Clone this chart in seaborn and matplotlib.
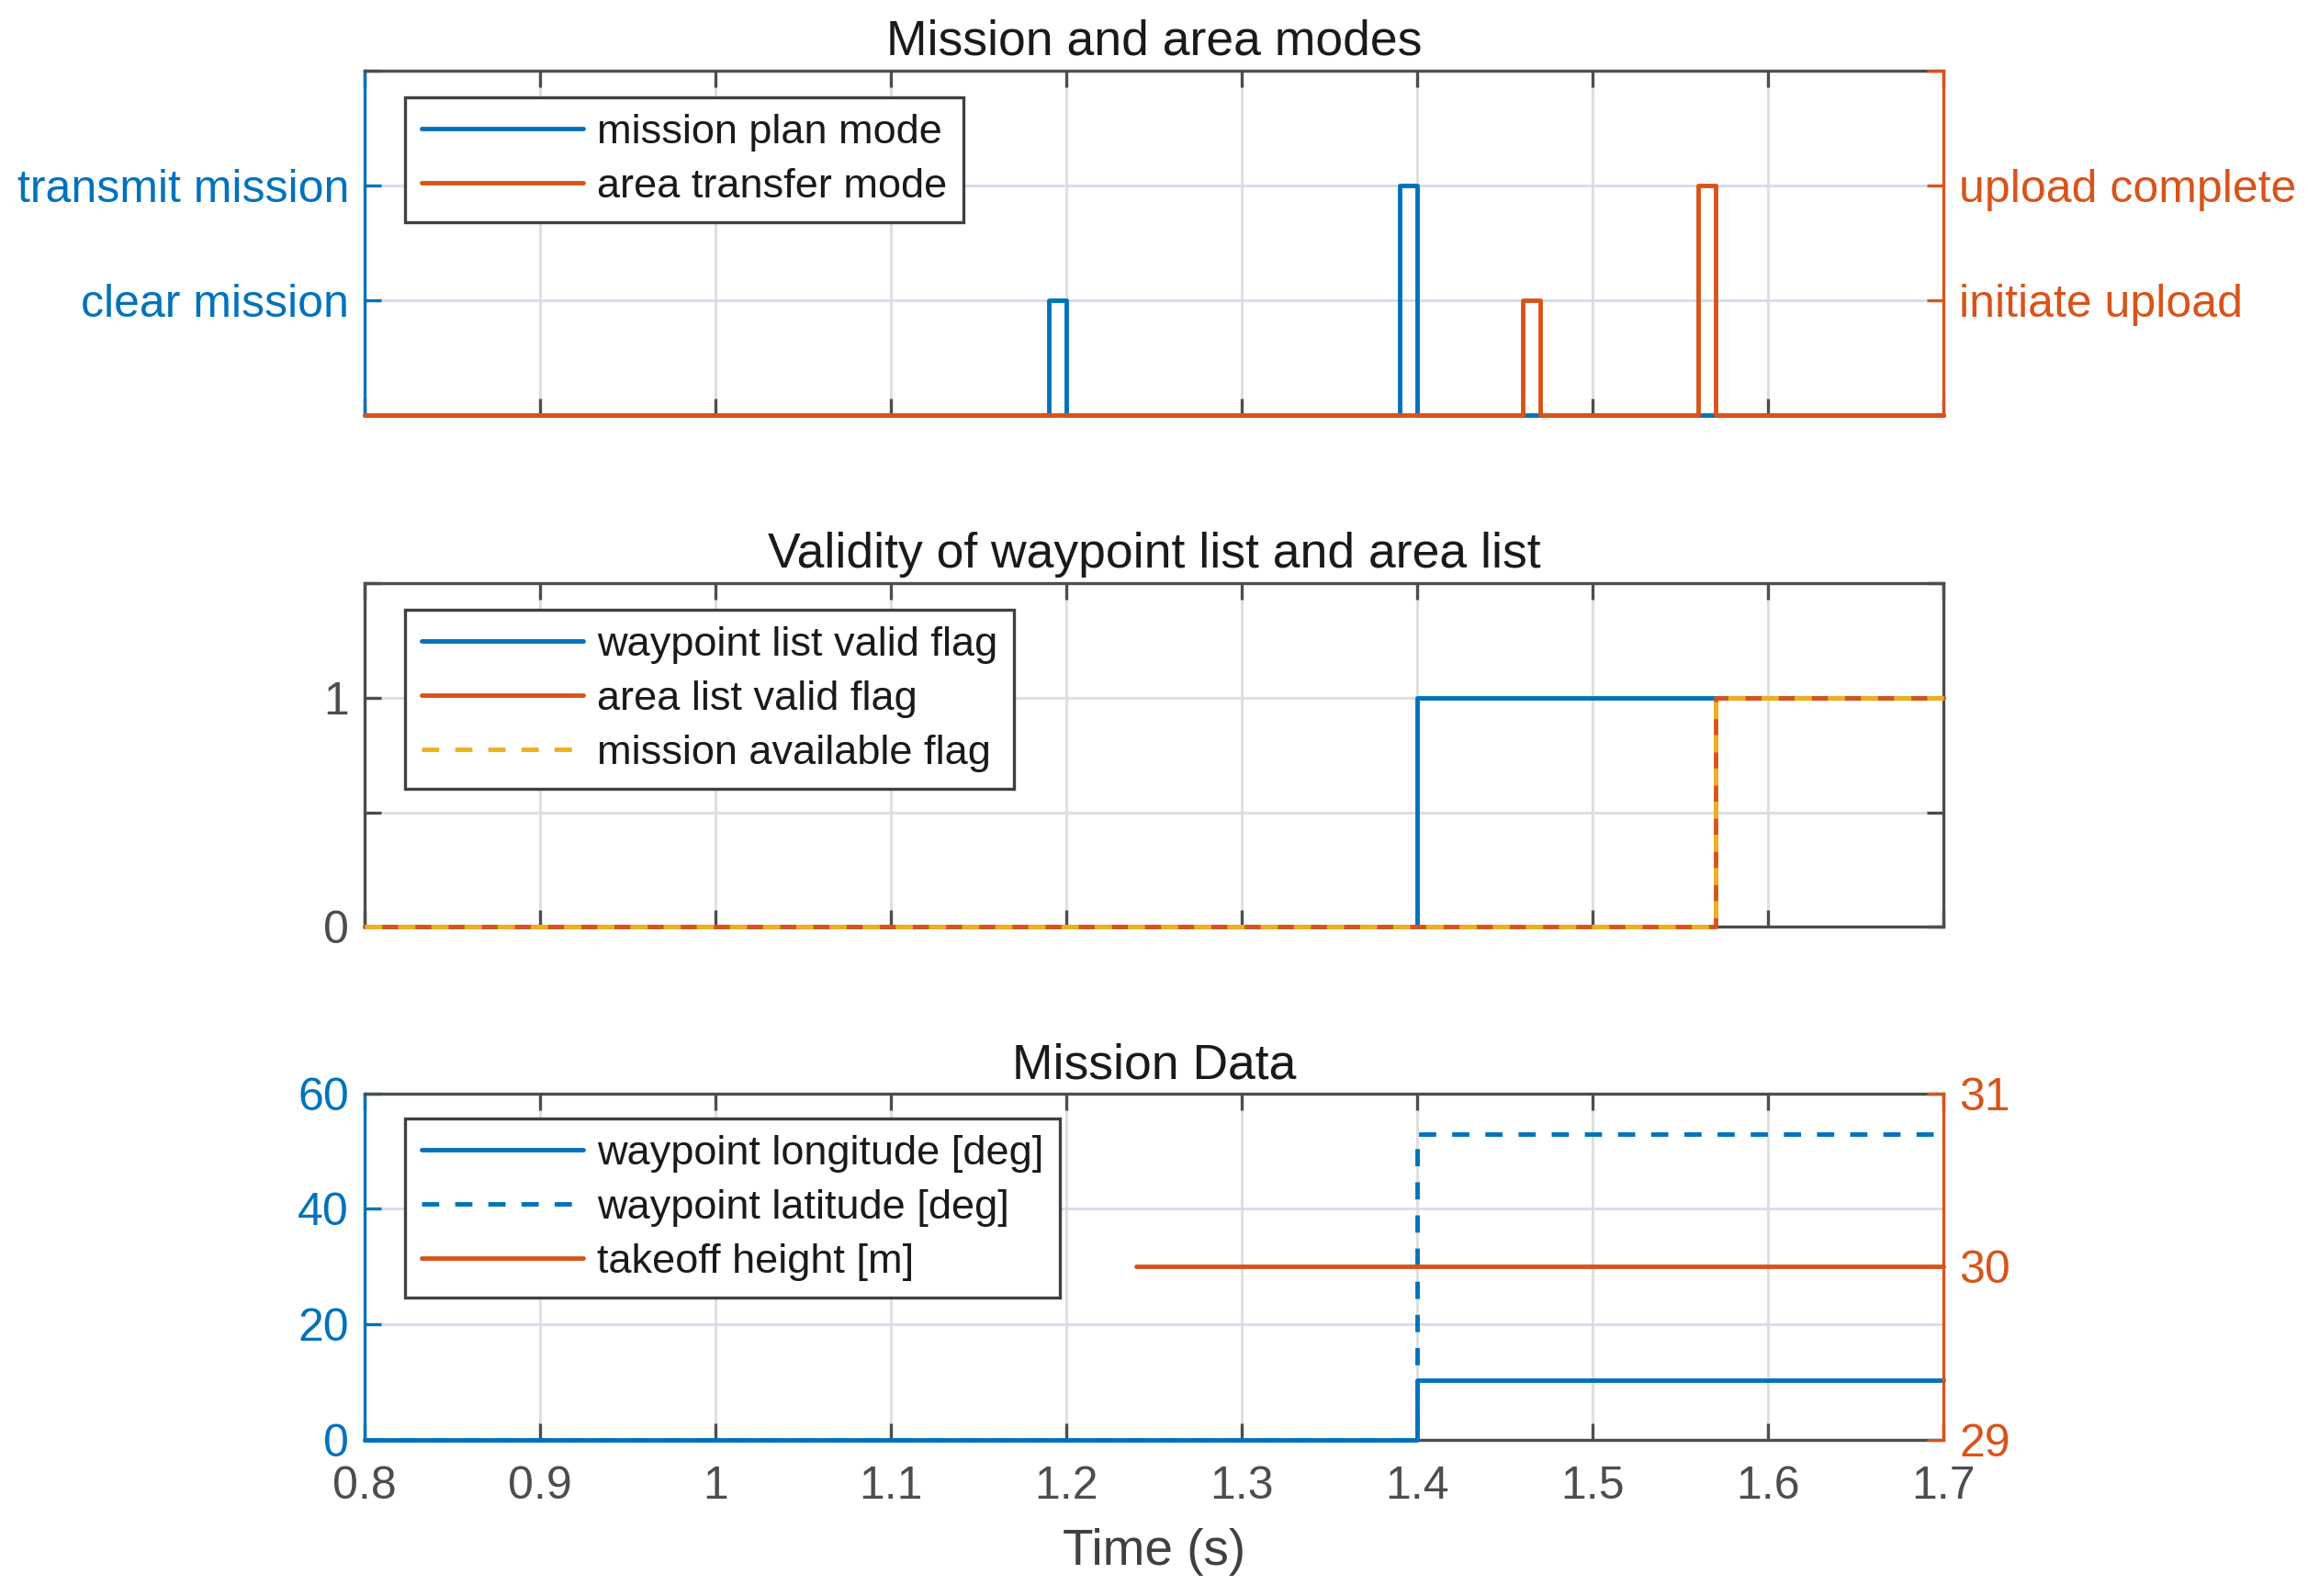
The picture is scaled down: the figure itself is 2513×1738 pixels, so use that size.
import matplotlib
matplotlib.use("Agg")
import matplotlib.pyplot as plt
import seaborn as sns

# ---------------- data ----------------
mode_t = [0.8, 1.19, 1.20, 1.39, 1.40, 1.7]
mission_plan_mode = [0, 1, 0, 2, 0, 0]
area_mode_t = [0.8, 1.46, 1.47, 1.56, 1.57, 1.7]
area_transfer_mode = [0, 1, 0, 2, 0, 0]
mode_ticks = [0, 1, 2, 3]
left_mode_labels = ["", "clear mission", "transmit mission", ""]
right_mode_labels = ["", "initiate upload", "upload complete", ""]

wp_valid_t = [0.8, 1.4, 1.7]
wp_valid = [0, 1, 1]
area_valid_t = [0.8, 1.57, 1.7]
area_valid = [0, 1, 1]
mission_avail = [0, 1, 1]
valid_ticks = [0, 0.5, 1, 1.5]
valid_labels = ["0", "", "1", ""]

data_t = [0.8, 1.4, 1.7]
wp_lon = [0, 10.3, 10.3]
wp_lat = [0, 53, 53]
takeoff_t = [1.24, 1.7]
takeoff_h = [30, 30]
left_data_ticks = [0, 20, 40, 60]
right_data_ticks = [29, 30, 31]

x_ticks = [0.8, 0.9, 1.0, 1.1, 1.2, 1.3, 1.4, 1.5, 1.6, 1.7]
x_labels = ["0.8", "0.9", "1", "1.1", "1.2", "1.3", "1.4", "1.5", "1.6", "1.7"]

# ---------------- style ----------------
sns.set_style("white")
plt.rcParams["font.family"] = ["Liberation Sans", "DejaVu Sans"]
plt.rcParams["lines.scale_dashes"] = False

BLUE = "#0072BD"
RED = "#D95319"
YEL = "#EDB120"
AXC = "#4D4D4D"
GRID_GRAY = "#DFDFDF"
GRID_BLUE = "#D6DDF1"
LW = 3.5
SPW = 2.4
DASH = (0, (13.5, 12.5))
TICK_FS = 36
LEG_FS = 32.5
TITLE_FS = 38.5

fig = plt.figure(figsize=(25.13, 17.38), dpi=100)
L, W = 0.1578, 0.6844
ax1 = fig.add_axes([L, 0.7399, W, 0.2160])
ax2 = fig.add_axes([L, 0.4192, W, 0.2154])
ax3 = fig.add_axes([L, 0.0978, W, 0.2171])


def base_style(ax, right_ticks=False, xlabels=False):
    ax.set_xlim(0.8, 1.7)
    ax.set_xticks(x_ticks)
    ax.set_xticklabels(x_labels if xlabels else [""] * len(x_ticks))
    for s in ax.spines.values():
        s.set_linewidth(SPW)
        s.set_color(AXC)
        s.set_visible(True)
    ax.tick_params(axis="both", direction="in", length=13, width=SPW,
                   color=AXC, labelcolor=AXC, labelsize=TICK_FS, pad=12)
    ax.tick_params(axis="x", top=True, bottom=True, pad=20)
    if right_ticks:
        ax.tick_params(axis="y", left=True, right=True)
    ax.set_axisbelow(True)
    ax.grid(axis="x", color=GRID_GRAY, lw=2.2)


def leg(ax, handles, labels, y):
    lg = ax.legend(handles, labels, loc="upper left", bbox_to_anchor=(0.026, y),
                   fontsize=LEG_FS, frameon=True, fancybox=False, framealpha=1,
                   edgecolor="#404040", handlelength=3.9, handletextpad=0.32,
                   labelspacing=0.4, borderpad=0.4, borderaxespad=0)
    lg.get_frame().set_linewidth(2.4)
    for t in lg.get_texts():
        t.set_color("#1a1a1a")
    lg.set_zorder(10)
    return lg


def twin_style(ax, axr):
    ax.spines["left"].set_color(BLUE)
    ax.spines["right"].set_visible(False)
    for k in ("top", "bottom", "left"):
        axr.spines[k].set_visible(False)
    axr.spines["right"].set_linewidth(SPW)
    axr.spines["right"].set_color(RED)
    ax.tick_params(axis="y", color=BLUE, labelcolor=BLUE)
    axr.tick_params(axis="y", direction="in", length=13, width=SPW,
                    color=RED, labelcolor=RED, labelsize=TICK_FS, pad=12)
    ax.grid(axis="y", color=GRID_BLUE, lw=2.2)


# ---------------- panel 1 ----------------
base_style(ax1)
ax1r = ax1.twinx()
sns.lineplot(x=mode_t, y=mission_plan_mode, ax=ax1, color=BLUE, lw=LW,
             drawstyle="steps-post", estimator=None, label="mission plan mode",
             clip_on=False, zorder=3)
sns.lineplot(x=area_mode_t, y=area_transfer_mode, ax=ax1r, color=RED, lw=LW,
             drawstyle="steps-post", estimator=None, label="area transfer mode",
             clip_on=False, zorder=3)
ax1.set_ylim(0, 3)
ax1r.set_ylim(0, 3)
ax1.set_yticks(mode_ticks)
ax1.set_yticklabels(left_mode_labels)
ax1r.set_yticks(mode_ticks)
ax1r.set_yticklabels(right_mode_labels)
ax1.set_xlim(0.8, 1.7)
twin_style(ax1, ax1r)
ax1.set_xlabel("")
ax1r.set_xlabel("")
ax1.set_ylabel("")
ax1r.set_ylabel("")
ax1.set_title("Mission and area modes", fontsize=TITLE_FS, color="#1a1a1a", pad=12)
h1, l1 = ax1.get_legend_handles_labels()
h2, l2 = ax1r.get_legend_handles_labels()
if ax1.get_legend() is not None:
    ax1.get_legend().remove()
leg(ax1r, h1 + h2, l1 + l2, 0.9227)

# ---------------- panel 2 ----------------
base_style(ax2, right_ticks=True)
sns.lineplot(x=wp_valid_t, y=wp_valid, ax=ax2, color=BLUE, lw=LW,
             drawstyle="steps-post", estimator=None, label="waypoint list valid flag",
             clip_on=False, zorder=3)
sns.lineplot(x=area_valid_t, y=area_valid, ax=ax2, color=RED, lw=LW,
             drawstyle="steps-post", estimator=None, label="area list valid flag",
             clip_on=False, zorder=3)
sns.lineplot(x=area_valid_t, y=mission_avail, ax=ax2, color=YEL, lw=LW,
             drawstyle="steps-post", estimator=None, label="mission available flag",
             linestyle=DASH, clip_on=False, zorder=3)
ax2.set_ylim(0, 1.5)
ax2.set_yticks(valid_ticks)
ax2.set_yticklabels(valid_labels)
ax2.set_xlim(0.8, 1.7)
ax2.grid(axis="y", color=GRID_GRAY, lw=2.2)
ax2.set_xlabel("")
ax2.set_ylabel("")
ax2.set_title("Validity of waypoint list and area list", fontsize=TITLE_FS,
              color="#1a1a1a", pad=12)
h, l = ax2.get_legend_handles_labels()
leg(ax2, h, l, 0.924)

# ---------------- panel 3 ----------------
base_style(ax3, xlabels=True)
ax3r = ax3.twinx()
sns.lineplot(x=data_t, y=wp_lon, ax=ax3, color=BLUE, lw=LW,
             drawstyle="steps-post", estimator=None, label="waypoint longitude [deg]",
             clip_on=False, zorder=3)
sns.lineplot(x=data_t, y=wp_lat, ax=ax3, color=BLUE, lw=LW,
             drawstyle="steps-post", estimator=None, label="waypoint latitude [deg]",
             linestyle=DASH, clip_on=False, zorder=3)
sns.lineplot(x=takeoff_t, y=takeoff_h, ax=ax3r, color=RED, lw=LW,
             estimator=None, label="takeoff height [m]", clip_on=False, zorder=3)
ax3.set_ylim(0, 60)
ax3.set_yticks(left_data_ticks)
ax3r.set_ylim(29, 31)
ax3r.set_yticks(right_data_ticks)
ax3.set_xlim(0.8, 1.7)
twin_style(ax3, ax3r)
ax3r.set_ylabel("")
ax3.set_ylabel("")
ax3.set_title("Mission Data", fontsize=TITLE_FS, color="#1a1a1a", pad=12)
ax3.set_xlabel("Time (s)", fontsize=39.5, color="#404040", labelpad=16)
h1, l1 = ax3.get_legend_handles_labels()
h2, l2 = ax3r.get_legend_handles_labels()
if ax3.get_legend() is not None:
    ax3.get_legend().remove()
leg(ax3r, h1 + h2, l1 + l2, 0.928)

fig.savefig("out.png", dpi=100)
